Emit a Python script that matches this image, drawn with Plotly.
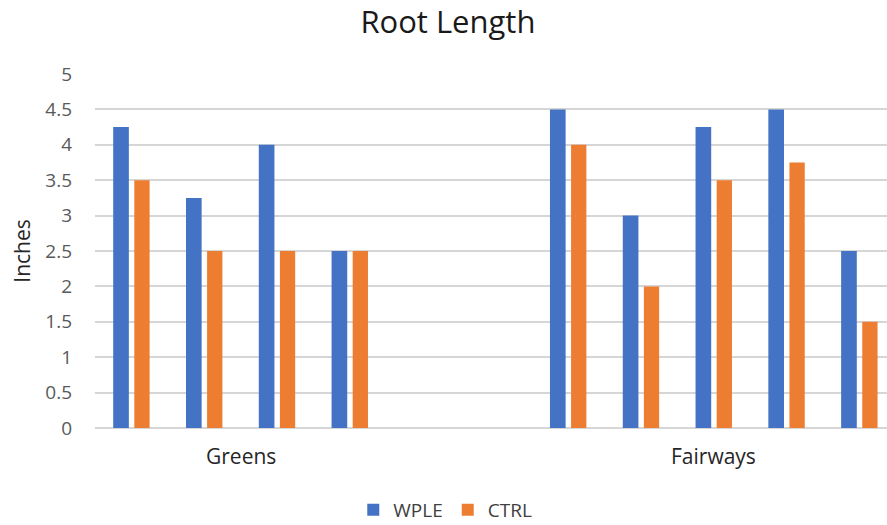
import plotly.graph_objects as go

# ---- data ----
title_text = "Root Length"
y_title = "Inches"
series_names = ["WPLE", "CTRL"]
greens_sites = ["Greens 1", "Greens 2", "Greens 3", "Greens 4"]
blank_slots = ["blank 1", "blank 2"]
fairways_sites = ["Fairways 1", "Fairways 2", "Fairways 3", "Fairways 4", "Fairways 5"]
greens_wple = [4.25, 3.25, 4.0, 2.5]
greens_ctrl = [3.5, 2.5, 2.5, 2.5]
fairways_wple = [4.5, 3.0, 4.25, 4.5, 2.5]
fairways_ctrl = [4.0, 2.0, 3.5, 3.75, 1.5]
y_tick_vals = [0, 0.5, 1, 1.5, 2, 2.5, 3, 3.5, 4, 4.5, 5]
y_tick_text = ["0", "0.5", "1", "1.5", "2", "2.5", "3", "3.5", "4", "4.5", "5"]

# ---- build ----
slots = greens_sites + blank_slots + fairways_sites
wple = greens_wple + [None] * len(blank_slots) + fairways_wple
ctrl = greens_ctrl + [None] * len(blank_slots) + fairways_ctrl

BLUE = "#4472C4"
ORANGE = "#ED7D31"
FONT = "Open Sans"

fig = go.Figure()
fig.add_trace(go.Bar(x=slots, y=wple, name=series_names[0], marker_color=BLUE,
                     width=0.215, offset=-0.25, marker_line_width=0))
fig.add_trace(go.Bar(x=slots, y=ctrl, name=series_names[1], marker_color=ORANGE,
                     width=0.21, offset=0.04, marker_line_width=0))

g_center = (slots.index(greens_sites[0]) + slots.index(greens_sites[-1])) / 2
f_center = (slots.index(fairways_sites[0]) + slots.index(fairways_sites[-1])) / 2
for label, xc in [("Greens", g_center), ("Fairways", f_center)]:
    fig.add_annotation(x=xc, y=0, xref="x", yref="y", text=label, showarrow=False,
                       yanchor="middle", yshift=-28,
                       font=dict(family=FONT, size=21, color="#262626"))

fig.update_layout(
    width=887, height=525,
    margin=dict(l=95, r=0, t=74, b=97, autoexpand=False),
    paper_bgcolor="white", plot_bgcolor="white",
    barmode="overlay",
    title=dict(text=title_text, x=0.505, xref="container", xanchor="center",
               y=1 - 22 / 525, yref="container", yanchor="middle",
               font=dict(family=FONT, size=31, color="#1a1a1a")),
    legend=dict(orientation="h", xref="container", yref="container",
                x=0.502, xanchor="center", y=1 - 510 / 525, yanchor="middle",
                font=dict(family=FONT, size=19, color="#404040"),
                itemsizing="constant", traceorder="normal", itemwidth=30),
    showlegend=True,
)
fig.update_xaxes(type="category", categoryorder="array", categoryarray=slots,
                 range=[-0.5, 10.38], showticklabels=False, showgrid=False,
                 showline=False, ticks="", fixedrange=True)
fig.update_yaxes(range=[0, 5], tickvals=y_tick_vals, ticktext=y_tick_text,
                 showgrid=True, gridcolor="#d6d6d6", gridwidth=1.5,
                 zeroline=True, zerolinecolor="#d6d6d6", zerolinewidth=1.5,
                 showline=False, ticks="", ticklabelstandoff=22,
                 tickfont=dict(family=FONT, size=19, color="#595959"),
                 title=dict(text=y_title, standoff=8,
                            font=dict(family=FONT, size=21, color="#262626")))

fig.write_html("out.html", config={"displayModeBar": False},
               post_script="document.body.style.margin='0px';document.body.style.overflow='hidden';")
